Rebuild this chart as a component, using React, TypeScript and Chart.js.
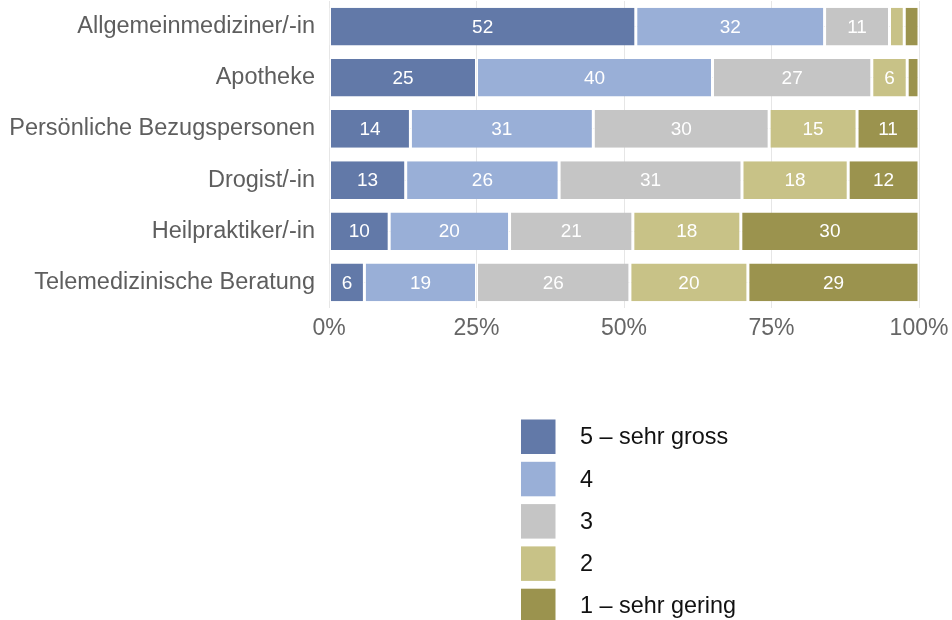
import React, { useEffect, useRef } from "react";
import { Chart, registerables } from "chart.js";

Chart.register(...registerables);

const categories = [
  "Allgemeinmediziner/-in",
  "Apotheke",
  "Persönliche Bezugspersonen",
  "Drogist/-in",
  "Heilpraktiker/-in",
  "Telemedizinische Beratung",
];

const seriesLabels = ["5 – sehr gross", "4", "3", "2", "1 – sehr gering"];
const seriesColors = ["#6279a8", "#99afd7", "#c5c5c5", "#c8c287", "#9b934e"];

const s5 = [52, 25, 13.8, 13, 10.2, 6];
const s4 = [32, 40, 31.0, 26, 20.4, 19];
const s3 = [11, 27, 29.8, 31, 20.9, 26];
const s2 = [2.5, 6, 14.9, 18, 18.3, 20];
const s1 = [2.5, 2, 10.5, 12, 30.2, 29];

const xTicks = [0, 25, 50, 75, 100];

const FONT = "'Liberation Sans', Arial, Helvetica, sans-serif";

const labelPlugin = {
  id: "segLabels",
  afterDatasetsDraw(chart: any) {
    const ctx = chart.ctx;
    ctx.save();
    ctx.font = `19px ${FONT}`;
    ctx.fillStyle = "#ffffff";
    ctx.textAlign = "center";
    ctx.textBaseline = "middle";
    chart.data.datasets.forEach((ds: any, di: number) => {
      const meta = chart.getDatasetMeta(di);
      meta.data.forEach((el: any, i: number) => {
        const v = ds.data[i];
        if (v < 4) return;
        const x = (el.x + el.base) / 2;
        ctx.fillText(String(Math.round(v)), x, el.y + 1);
      });
    });
    ctx.restore();
  },
};

const legendPlugin = {
  id: "customLegend",
  afterDraw(chart: any) {
    const ctx = chart.ctx;
    ctx.save();
    ctx.font = `23.4px ${FONT}`;
    ctx.textAlign = "left";
    ctx.textBaseline = "middle";
    const x0 = 521;
    const y0 = 419.5;
    const size = 34.5;
    const pitch = 42.3;
    seriesLabels.forEach((lab, i) => {
      const y = y0 + i * pitch;
      ctx.fillStyle = seriesColors[i];
      ctx.fillRect(x0, y, size, size);
      ctx.fillStyle = "#111111";
      ctx.fillText(lab, 580, y + size / 2 + 1);
    });
    ctx.restore();
  },
};

export default function App() {
  const ref = useRef<HTMLCanvasElement | null>(null);
  useEffect(() => {
    document.body.style.margin = "0";
    const series = [s5, s4, s3, s2, s1];
    const chart = new Chart(ref.current as HTMLCanvasElement, {
      type: "bar",
      data: {
        labels: categories,
        datasets: series.map((d, i) => ({
          label: seriesLabels[i],
          data: d,
          backgroundColor: seriesColors[i],
          borderColor: "#ffffff",
          borderWidth: { top: 0, bottom: 0, left: 1.5, right: 1.5 },
          borderSkipped: false,
          barPercentage: 0.737,
          categoryPercentage: 1,
        })),
      },
      options: {
        indexAxis: "y",
        animation: false,
        responsive: false,
        maintainAspectRatio: false,
        layout: { padding: { top: 1, left: 0, right: 33, bottom: 282 } },
        plugins: {
          legend: { display: false },
          tooltip: { enabled: false },
        },
        scales: {
          x: {
            stacked: true,
            min: 0,
            max: 100,
            afterFit: (s: any) => {
              s.height = 30;
              s.paddingLeft = 0;
              s.paddingRight = 0;
            },
            afterBuildTicks: (s: any) => {
              s.ticks = xTicks.map((v) => ({ value: v }));
            },
            border: { display: false },
            grid: { color: "#e6e6e6", drawTicks: false, lineWidth: 1 },
            ticks: {
              padding: 7,
              color: "#666666",
              maxRotation: 0,
              autoSkip: false,
              font: { family: FONT, size: 23 },
              callback: (v: any) => `${v}%`,
            },
          },
          y: {
            stacked: true,
            afterFit: (s: any) => {
              s.width = 329;
              s.paddingTop = 0;
              s.paddingBottom = 0;
            },
            border: { display: false },
            grid: { color: "#e6e6e6", drawTicks: false, offset: false },
            ticks: {
              padding: 14,
              color: "#5e5e5e",
              autoSkip: false,
              font: { family: FONT, size: 23.5 },
            },
          },
        },
      },
      plugins: [labelPlugin, legendPlugin],
    } as any);
    return () => chart.destroy();
  }, []);
  return (
    <div style={{ width: 952, height: 620 }}>
      <canvas ref={ref} width={952} height={620} style={{ display: "block" }} />
    </div>
  );
}
